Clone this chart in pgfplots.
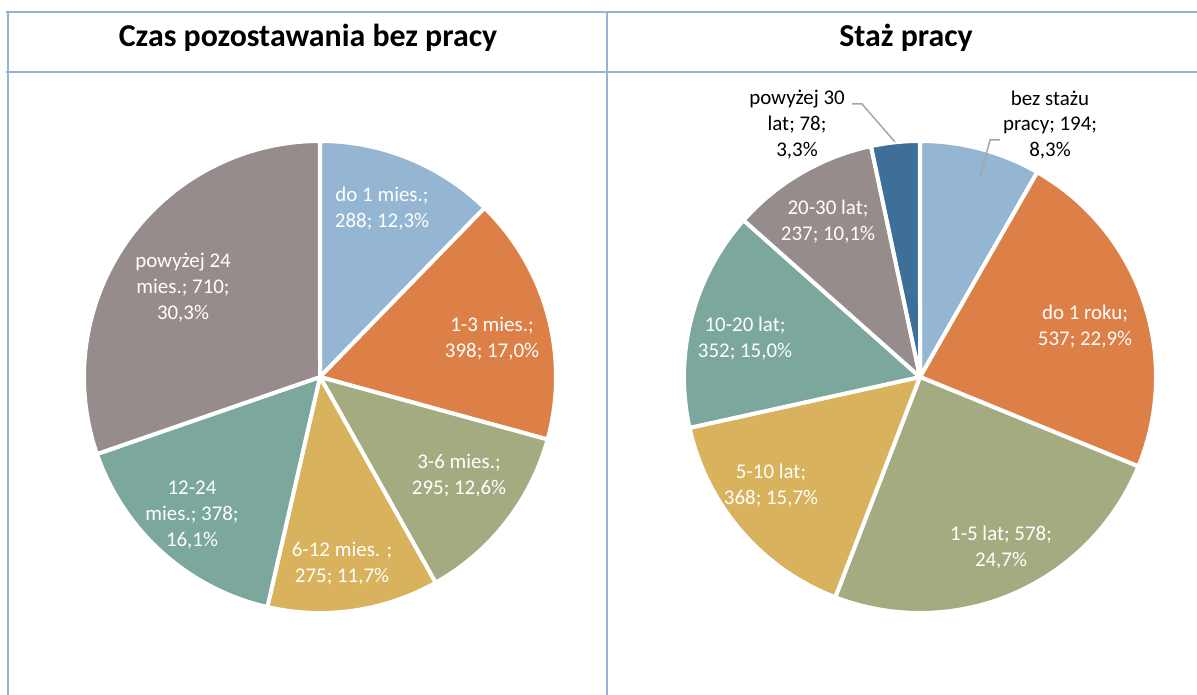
\documentclass[border=0pt]{standalone}
\usepackage{pgfplots}
\pgfplotsset{compat=1.18}
\usepackage{fontspec}
\setmainfont{Carlito}
\definecolor{cA}{HTML}{94B6D2}
\definecolor{cB}{HTML}{DD8047}
\definecolor{cC}{HTML}{A5AB81}
\definecolor{cD}{HTML}{D8B25C}
\definecolor{cE}{HTML}{7BA79D}
\definecolor{cF}{HTML}{968C8C}
\definecolor{cG}{HTML}{3E6F98}
\definecolor{frame}{HTML}{95B3D7}
\definecolor{lead}{HTML}{A6A6A6}

\def\total{2344}
\newcommand\pieslice[2]{%
  \pgfmathsetmacro\sa{\cum}%
  \pgfmathsetmacro\ea{\cum-#1/\total*360}%
  \edef\temp{\noexpand\addplot[fill=#2,draw=white,line width=4bp,line join=round,no markers,domain=\ea:\sa,samples=90] ({cos(x)},{sin(x)}) -- (axis cs:0,0) -- cycle;}%
  \temp
  \xdef\cum{\ea}}

\begin{document}
\begin{tikzpicture}[x=1bp,y=1bp]
\useasboundingbox (0,0) rectangle (1197,695);
% frame
\draw[frame, line width=2.5bp] (6,683)--(1197,683);
\draw[frame, line width=2.5bp] (6,623)--(1197,623);
\draw[frame, line width=2.5bp] (8,683)--(8,0);
\draw[frame, line width=2.5bp] (607,683)--(607,0);
% titles
\node[font=\bfseries\fontsize{32}{38}\selectfont] at (308,657) {Czas pozostawania bez pracy};
\node[font=\bfseries\fontsize{32}{38}\selectfont] at (906,657) {Staż pracy};

\begin{axis}[at={(320bp,318bp)}, anchor=center, hide axis, x=236bp, y=236bp,
  xmin=-1.05, xmax=1.05, ymin=-1.05, ymax=1.05, clip=false]
\gdef\cum{90}
\pieslice{288}{cA}
\pieslice{398}{cB}
\pieslice{295}{cC}
\pieslice{275}{cD}
\pieslice{378}{cE}
\pieslice{710}{cF}
\end{axis}

\begin{axis}[at={(920bp,318bp)}, anchor=center, hide axis, x=236bp, y=236bp,
  xmin=-1.05, xmax=1.05, ymin=-1.05, ymax=1.05, clip=false]
\gdef\cum{90}
\pieslice{194}{cA}
\pieslice{537}{cB}
\pieslice{578}{cC}
\pieslice{368}{cD}
\pieslice{352}{cE}
\pieslice{237}{cF}
\pieslice{78}{cG}
\end{axis}

\tikzset{lab/.style={align=center, text=white, font=\fontsize{21}{26}\selectfont, inner sep=0pt}}
% left labels
\node[lab] at (382,486) {do 1 mies.;\\288; 12,3\%};
\node[lab] at (492,356) {1-3 mies.;\\398; 17,0\%};
\node[lab] at (459,219) {3-6 mies.;\\295; 12,6\%};
\node[lab] at (342,131) {6-12 mies. ;\\275; 11,7\%};
\node[lab] at (192,180) {12-24\\mies.; 378;\\16,1\%};
\node[lab] at (183,407) {powyżej 24\\mies.; 710;\\30,3\%};
% right labels
\node[lab, text=black] at (1050,570) {bez stażu\\pracy; 194;\\8,3\%};
\node[lab, text=black] at (797,570) {powyżej 30\\lat; 78;\\3,3\%};
\node[lab] at (828,473) {20-30 lat;\\237; 10,1\%};
\node[lab] at (745,356) {10-20 lat;\\352; 15,0\%};
\node[lab] at (771,209) {5-10 lat;\\368; 15,7\%};
\node[lab] at (1001,147) {1-5 lat; 578;\\24,7\%};
\node[lab] at (1085,368) {do 1 roku;\\537; 22,9\%};
% leader lines
\draw[lead, line width=1.5bp] (1000,555)--(990,555)--(980,518);
\draw[lead, line width=1.5bp] (852,591)--(862,591)--(895,553);
\end{tikzpicture}
\end{document}
